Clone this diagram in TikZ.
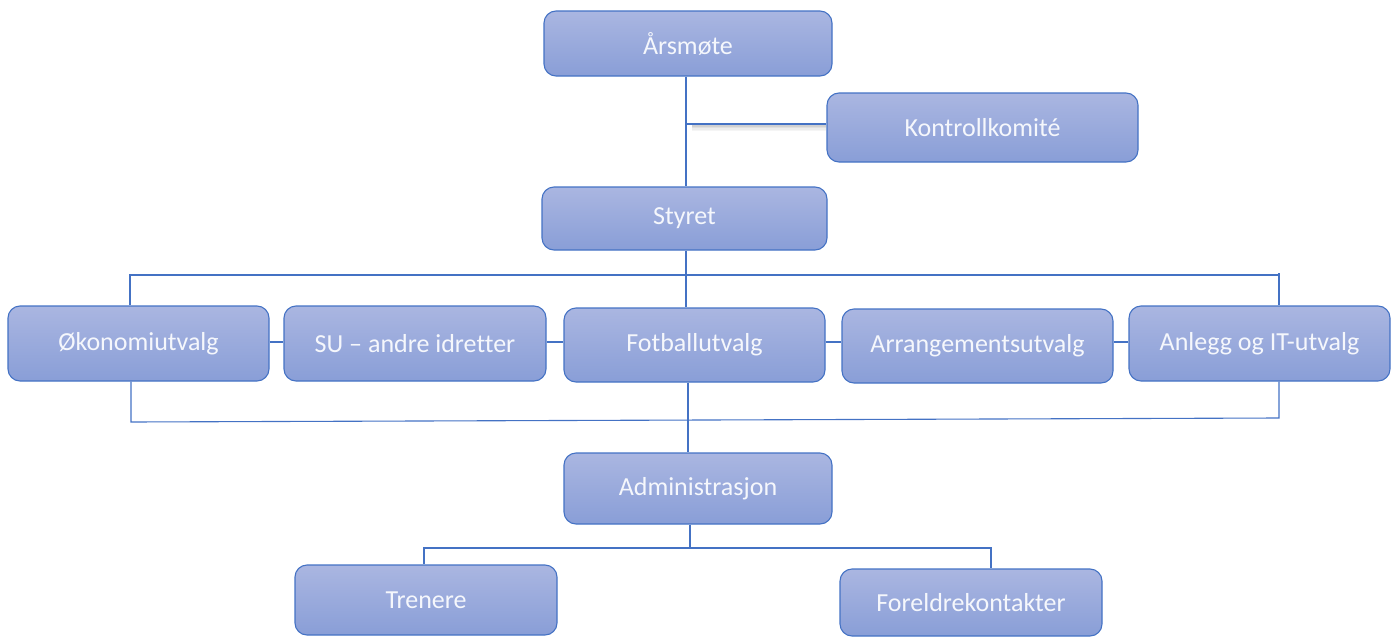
\documentclass[tikz,border=0pt]{standalone}
\usepackage{fontspec}
\setmainfont{Carlito}[Ligatures={TeX,NoCommon}]
\usetikzlibrary{calc}
\definecolor{boxtop}{RGB}{170,182,225}
\definecolor{boxbot}{RGB}{137,158,215}
\definecolor{edge}{RGB}{68,114,196}
\definecolor{boxtext}{RGB}{245,247,252}
\begin{document}
\begin{tikzpicture}[x=1pt,y=-1pt,
  orgbox/.style={draw=edge, line width=1.1pt, rounded corners=12pt, top color=boxtop, bottom color=boxbot, text=boxtext, font=\fontsize{26}{30}\selectfont, inner sep=0pt, anchor=center},
  conn/.style={draw=edge, line width=1.1pt}]
\useasboundingbox (0,0) rectangle (1392,637);
% boxes
\node[orgbox, minimum width=288, minimum height=65] (ars) at (688,43.5) {Årsmøte};
\node[orgbox, minimum width=311, minimum height=69] (kon) at (982.5,127.5) {Kontrollkomité};
\node[orgbox, minimum width=285, minimum height=63] (sty) at (684.5,218.5) {Styret};
\node[orgbox, minimum width=261, minimum height=75] (oko) at (138.5,343.5) {Økonomiutvalg};
\node[orgbox, minimum width=262, minimum height=75] (su) at (415,343.5) {SU – andre idretter};
\node[orgbox, minimum width=261, minimum height=74] (fot) at (694.5,345) {Fotballutvalg};
\node[orgbox, minimum width=271, minimum height=74] (arr) at (977.5,346) {Arrangementsutvalg};
\node[orgbox, minimum width=261, minimum height=75] (anl) at (1259.5,343.5) {Anlegg og IT-utvalg};
\node[orgbox, minimum width=268, minimum height=71] (adm) at (698,488.5) {Administrasjon};
\node[orgbox, minimum width=262, minimum height=70] (tre) at (426,600) {Trenere};
\node[orgbox, minimum width=262, minimum height=67] (for) at (971,602.5) {Foreldrekontakter};
% helper coordinates
\coordinate (kj) at (686,124);
\coordinate (tl) at (130,275);
\coordinate (tr) at (1279,275);
\coordinate (bl) at (131,422);
\coordinate (br) at (1279,418);
\coordinate (h) at (0,342);
\coordinate (c688) at (688,0);
\coordinate (c690) at (690,0);
\coordinate (ml) at (424,548);
\coordinate (mr) at (991,548);
% shadow under Kontrollkomite connector
\foreach \d/\o in {2/0.18,3.5/0.12,5/0.07,6.5/0.04}{
  \draw[black, opacity=\o, line width=1.6pt] ($(kj)+(6,\d)$) -- ($(kon.west |- kj)+(0,\d)$);
}
% connectors
\draw[conn] (ars.south -| kj) -- (sty.north -| kj);
\draw[conn] (kj) -- (kon.west |- kj);
\draw[conn] (sty.south -| kj) -- (fot.north -| kj);
\draw[conn] (oko.north -| tl) -- (tl) -- (tr) -- (anl.north -| tr);
\draw[conn] (tr) -- ++(0,-2);
\draw[conn] (oko.south -| bl) -- (bl) -- (br) -- (anl.south -| br);
\draw[conn] (oko.east |- h) -- (su.west |- h);
\draw[conn] (su.east |- h) -- (fot.west |- h);
\draw[conn] (fot.east |- h) -- (arr.west |- h);
\draw[conn] (arr.east |- h) -- (anl.west |- h);
\draw[conn] (fot.south -| c688) -- (adm.north -| c688);
\draw[conn] (adm.south -| c690) -- (c690 |- ml);
\draw[conn] (tre.north -| ml) -- (ml) -- (mr) -- (for.north -| mr);
\end{tikzpicture}
\end{document}
